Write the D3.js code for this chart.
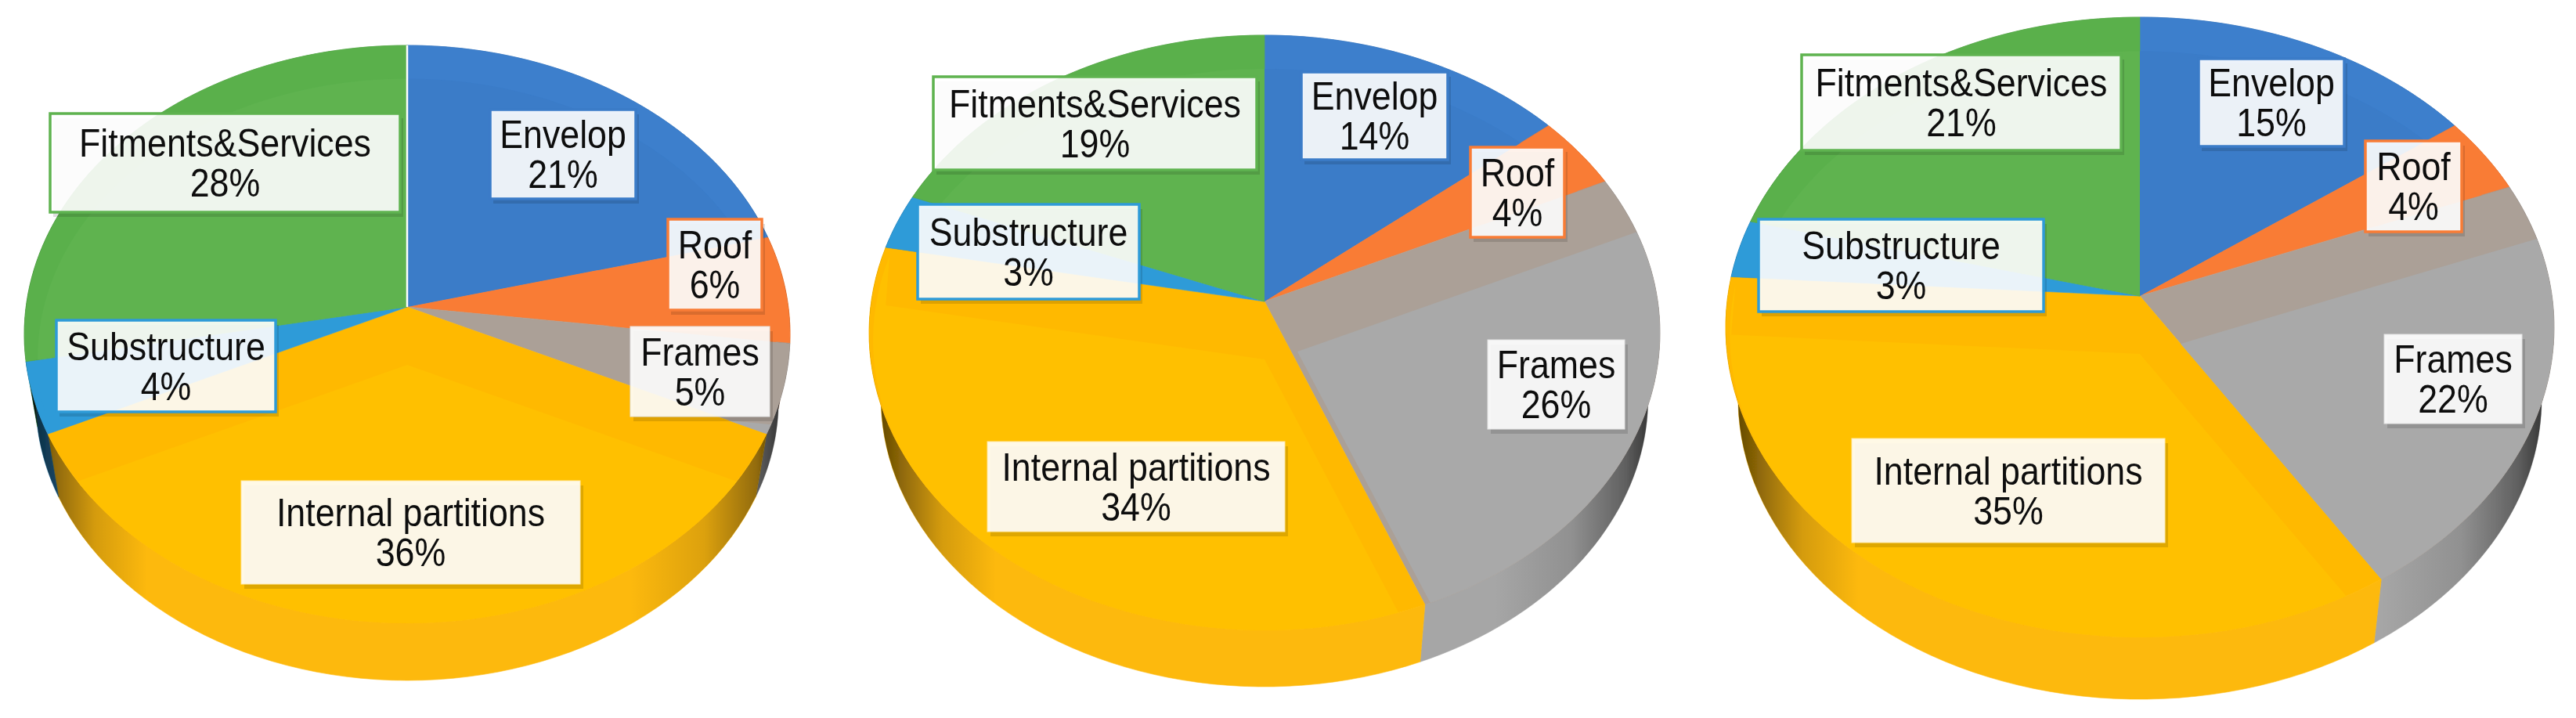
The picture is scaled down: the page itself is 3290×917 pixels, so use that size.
<!DOCTYPE html>
<html><head><meta charset="utf-8">
<script src="https://cdn.jsdelivr.net/npm/d3@7"></script>
<style>html,body{margin:0;background:#fff}svg{display:block}</style></head>
<body><div id="c"></div>
<script>
const categories = ["Envelop","Roof","Frames","Internal partitions","Substructure","Fitments&Services"];
const valuesA = [21,6,5,36,4,28];
const valuesB = [14,4,26,34,3,19];
const valuesC = [15,4,22,35,3,21];
const sliceColors = ["#3A7BC8","#F97C36","#A9A9A9","#FFC000","#2F9BD8","#5EB350"];
const bandColors  = ["#3C7FCC","#F97C36","#ABA097","#FFB900","#2F9BD8","#5AB04C"];
const wallColors  = ["#2F66A8","#D96A2C","#A6A6A6","#FDB90C","#2478AC","#4A9440"];
const borderColors= ["#3A7BC8","#F97C36","#E4E4E4","#FFE9A8","#2F9BD8","#5EB350"];

// geometry of each tilted pie: ellipse of the top face, apex height, wall depth
const pies = [
 {values:valuesA, ex:520,  ey:427, rx:489, ry:369, ay:392, depth:73, sep:"#fff", greyShift:[42,110],
  boxes:[[626,140,186,114],[853,280,120,116],[805,417,178,115],[308,614,433,132],[72,409,280,117],[64,145,447,126]]},
 {values:valuesB, ex:1615, ey:425, rx:505, ry:380, ay:385, depth:72, sep:null, greyShift:[42,64],
  boxes:[[1662,92,187,112],[1878,188,120,115],[1900,434,175,114],[1261,564,380,115],[1172,261,283,121],[1192,98,413,119]]},
 {values:valuesC, ex:2733, ey:418, rx:529, ry:396, ay:378, depth:79, sep:null, greyShift:[42,64],
  boxes:[[2808,75,186,112],[3021,180,123,116],[3045,427,176,114],[2365,560,400,133],[2246,280,364,118],[2301,70,408,122]]}
];
const wallScale = 0.97, fontSize = 50, textSqueeze = 0.895;

const svg = d3.select("#c").append("svg").attr("width",3290).attr("height",917);
const defs = svg.append("defs");
const soft = defs.append("filter").attr("id","soft");
soft.append("feGaussianBlur").attr("stdDeviation",0.7);

const pieGen = d3.pie().sort(null).value(d=>d);
const line = d3.line().x(d=>d[0]).y(d=>d[1]);

pies.forEach((p,pi)=>{
  const k = (p.ey-p.ay)/p.ry, root = Math.sqrt(1-k*k);
  // perspective map of the unit disc on to the ellipse, centre -> apex
  const unit = a => { const x=Math.sin(a), y=Math.cos(a), den=1+k*y; return [x*root/den,(y+k)/den]; };
  const top = (a,s=1) => { const [X,Y]=unit(a); return [p.ex+p.rx*s*X, p.ey-p.ry*s*Y]; };
  const dWall = p.depth + (1-wallScale)*p.ry;
  const bot = a => { const [X,Y]=unit(a); return [p.ex+p.rx*wallScale*X, p.ey+dWall-p.ry*wallScale*Y]; };
  const arcs = pieGen(p.values);
  const sample = d => d3.range(0,61).map(i=>d.startAngle+(d.endAngle-d.startAngle)*i/60);
  const apex = [p.ex,p.ay];

  const g = svg.append("g").attr("filter","url(#soft)");

  const gradId = "wallShade"+pi;
  const grad = defs.append("linearGradient").attr("id",gradId).attr("gradientUnits","userSpaceOnUse")
    .attr("x1",p.ex-p.rx*wallScale).attr("x2",p.ex+p.rx*wallScale).attr("y1",0).attr("y2",0);
  [[0,.6],[.03,.42],[.08,.16],[.15,0],[.8,0],[.9,.13],[.97,.42],[1,.66]].forEach(s=>
    grad.append("stop").attr("offset",s[0]).attr("stop-color","#000").attr("stop-opacity",s[1]));

  // side wall
  const wallPts = d => { const t=sample(d); return t.map(a=>top(a)).concat(t.slice().reverse().map(a=>bot(a))); };
  g.selectAll(".wall").data(arcs).join("path").attr("class","wall")
    .attr("d",d=>line(wallPts(d))+"Z").attr("fill",(d,i)=>wallColors[i]).attr("stroke",(d,i)=>wallColors[i]).attr("stroke-width",.6);
  g.selectAll(".wallShade").data(arcs).join("path").attr("class","wallShade")
    .attr("d",d=>line(wallPts(d))+"Z").attr("fill",`url(#${gradId})`);

  // top face (bevel colour) with the inner, lighter, slice clipped to it
  const facePts = d => [apex].concat(sample(d).map(a=>top(a)));
  g.selectAll(".face").data(arcs).join("path").attr("class","face")
    .attr("d",d=>line(facePts(d))+"Z").attr("fill",(d,i)=>bandColors[i]).attr("stroke",(d,i)=>bandColors[i]).attr("stroke-width",.6);

  arcs.forEach((d,i)=>{
    const id=`clip${pi}_${i}`;
    defs.append("clipPath").attr("id",id).append("path").attr("d",line(facePts(d))+"Z");
    const shift = i===2 ? p.greyShift : [0,74];
    const rimScale = i===2 ? 1 : (i===3 ? 0.99 : 0.965);
    const rimDrop = i===3 ? 10 : (i===2 ? 0 : shift[1]*.4);
    const rim = sample(d).map(a=>{ const q=top(a,rimScale); return [q[0]+shift[0], q[1]+rimDrop]; });
    // the inner shape's arms run parallel to the slice's arms; its rim sits just inside the face
    const startArm = top(d.startAngle), endArm = top(d.endAngle);
    const inner = [[apex[0]+shift[0],apex[1]+shift[1]],[startArm[0]+shift[0],startArm[1]+shift[1]]]
      .concat(rim).concat([[endArm[0]+shift[0],endArm[1]+shift[1]]]);
    g.append("path").attr("clip-path",`url(#${id})`).attr("d",line(inner)+"Z").attr("fill",sliceColors[i]);
  });

  if(p.sep){
    const r=top(0);
    g.append("line").attr("x1",apex[0]).attr("y1",apex[1]).attr("x2",r[0]).attr("y2",r[1]).attr("stroke",p.sep).attr("stroke-width",2.5);
  }

  // labels
  const labels = svg.append("g").selectAll("g").data(arcs).join("g").attr("filter","url(#soft)");
  labels.append("rect")
    .attr("x",(d,i)=>p.boxes[i][0]+4).attr("y",(d,i)=>p.boxes[i][1]+6)
    .attr("width",(d,i)=>p.boxes[i][2]).attr("height",(d,i)=>p.boxes[i][3])
    .attr("fill","#000").attr("fill-opacity",.13);
  labels.append("rect")
    .attr("x",(d,i)=>p.boxes[i][0]).attr("y",(d,i)=>p.boxes[i][1])
    .attr("width",(d,i)=>p.boxes[i][2]).attr("height",(d,i)=>p.boxes[i][3])
    .attr("fill","#fff").attr("fill-opacity",.9)
    .attr("stroke",(d,i)=>borderColors[i]).attr("stroke-width",(d,i)=>(i===2||i===3)?1:3.5);
  const tx = labels.append("text").attr("text-anchor","middle")
    .attr("transform",(d,i)=>`translate(${p.boxes[i][0]+p.boxes[i][2]/2},${p.boxes[i][1]+p.boxes[i][3]/2}) scale(${textSqueeze},1)`)
    .attr("font-family","'Liberation Sans',Arial,sans-serif").attr("font-size",fontSize).attr("fill","#111");
  tx.append("tspan").attr("x",0).attr("y",-8).text((d,i)=>categories[i]);
  tx.append("tspan").attr("x",0).attr("y",43).text(d=>d.value+"%");
});
</script></body></html>
